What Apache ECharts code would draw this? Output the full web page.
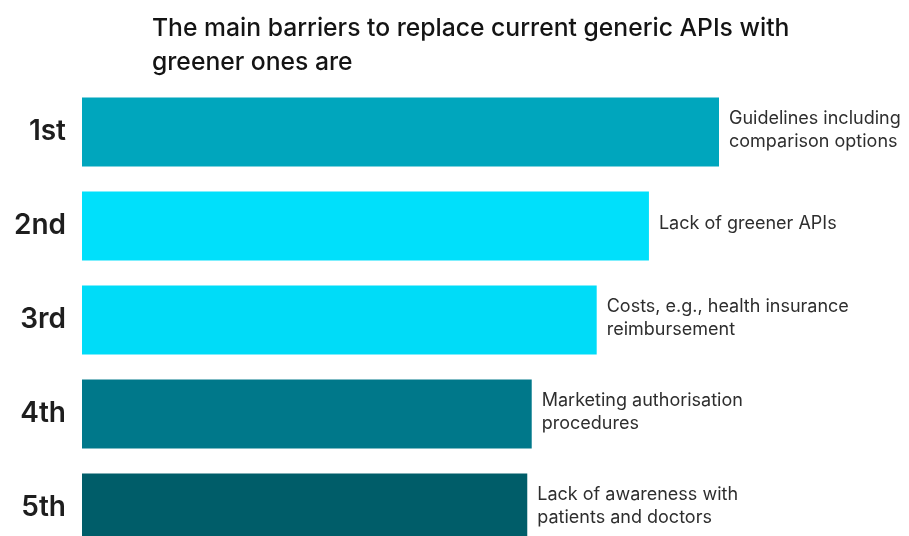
<!DOCTYPE html>
<html>
<head>
<meta charset="utf-8">
<script src="https://cdn.jsdelivr.net/npm/echarts@6/dist/echarts.min.js"></script>
<style>html,body{margin:0;padding:0;background:#fff;}#c{width:909px;height:536px;}</style>
</head>
<body>
<div id="c"></div>
<script>
const ranks = ['1st', '2nd', '3rd', '4th', '5th'];
const barriers = [
  'Guidelines including\ncomparison options',
  'Lack of greener APIs',
  'Costs, e.g., health insurance\nreimbursement',
  'Marketing authorisation\nprocedures',
  'Lack of awareness with\npatients and doctors'
];
const scores = [100, 89, 80.8, 70.6, 69.9];
const colors = ['#00a6bd', '#00e0fb', '#00dcf8', '#00788a', '#005d69'];

const chart = echarts.init(document.getElementById('c'));
chart.setOption({
  animation: false,
  backgroundColor: '#ffffff',
  title: {
    text: 'The main barriers to replace current generic APIs with\ngreener ones are',
    left: 147, top: 7,
    textStyle: { fontFamily: 'Inter', fontSize: 24.7, fontWeight: 500, color: '#141414', lineHeight: 34 }
  },
  grid: { left: 82, top: 85, width: 637, height: 470, outerBoundsMode: 'none', containLabel: false },
  xAxis: { type: 'value', min: 0, max: 100, show: false },
  yAxis: {
    type: 'category', data: ranks, inverse: true,
    axisLine: { show: false }, axisTick: { show: false },
    axisLabel: { margin: 16, fontFamily: 'Inter', fontSize: 28, fontWeight: 600, color: '#1e1e1e' }
  },
  series: [{
    type: 'bar',
    data: scores.map((v, i) => ({ value: v, itemStyle: { color: colors[i] }, label: { formatter: barriers[i] } })),
    barWidth: 69,
    label: {
      show: true, position: 'right', distance: 10,
      fontFamily: 'Inter', fontSize: 18, color: '#2e2e2e', lineHeight: 23, align: 'left', offset: [0, -2]
    }
  }]
});
</script>
</body>
</html>
